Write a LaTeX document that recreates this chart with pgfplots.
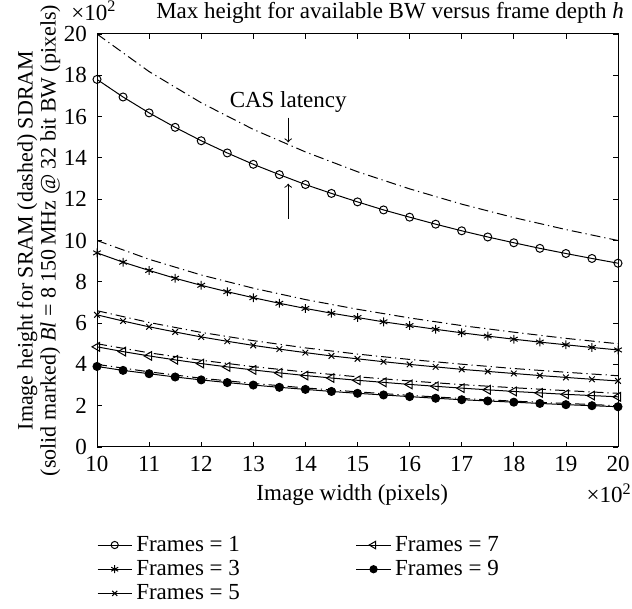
\documentclass[border=0pt]{standalone}
\usepackage{fontspec}
\setmainfont{Liberation Serif}
\usepackage{pgfplots}
\pgfplotsset{compat=1.18}
\newcommand{\figfont}{\fontsize{11.5}{13}\selectfont}
\begin{document}
\begin{tikzpicture}[font=\figfont]
\begin{axis}[
    name=ax,
    scale only axis,
    width=260.5pt,
    height=206.5pt,
    xmin=10, xmax=20,
    ymin=0, ymax=20,
    xtick={10,11,...,20},
    ytick={0,2,...,20},
    tick align=inside,
    major tick length=2.5pt,
    tick style={black, line width=0.4pt},
    axis line style={line width=0.5pt},
    /pgf/number format/assume math mode=true,
    tick label style={font=\figfont},
    yticklabel style={xshift=-1.5pt},
    xticklabel style={yshift=-1pt},
    label style={font=\figfont},
    xlabel={Image width (pixels)},
    xlabel style={at={(0.49,0)}, anchor=center, yshift=-24pt},
    ylabel={Image height for SRAM (dashed) SDRAM\\(solid marked) \textit{Bl} = 8 150\,MHz @ 32 bit BW (pixels)},
    ylabel style={align=center, yshift=-5pt, font=\fontsize{11}{11.5}\selectfont},
    title={Max height for available BW versus frame depth \textit{h}},
    title style={at={(0.5624,1)}, anchor=base, yshift=1.5pt, font=\fontsize{11.5}{13}\selectfont},
    legend columns=2,
    legend cell align=left,
    legend style={at={(-0.012,-0.195)}, anchor=north west, draw=none, fill=none,
        row sep=-1pt,
        /tikz/column 2/.style={column sep=56pt},
        font=\figfont},
    every axis plot/.append style={line width=0.5pt, black},
]
% legend images in the reference's order (column-wise)
\addlegendimage{black, line width=0.5pt, mark=o, mark size=1.8pt}
\addlegendentry{Frames = 1}
\addlegendimage{black, line width=0.5pt, mark=triangle, mark size=2.2pt, mark options={rotate=90}}
\addlegendentry{Frames = 7}
\addlegendimage{black, line width=0.5pt, mark=asterisk, mark size=2pt}
\addlegendentry{Frames = 3}
\addlegendimage{black, line width=0.5pt, mark=*, mark size=1.8pt}
\addlegendentry{Frames = 9}
\addlegendimage{black, line width=0.5pt, mark=x, mark size=1.8pt}
\addlegendentry{Frames = 5}

% SRAM (dashed)
\addplot[forget plot, dash pattern=on 5pt off 2pt on 0.6pt off 2pt] coordinates {
    (10,20.00) (11,18.18) (12,16.67) (13,15.38) (14,14.29) (15,13.33)
    (16,12.50) (17,11.76) (18,11.11) (19,10.53) (20,10.00)
};
\addplot[forget plot, dash pattern=on 5pt off 2pt on 0.6pt off 2pt] coordinates {
    (10,10.00) (11,9.09) (12,8.33) (13,7.69) (14,7.14) (15,6.67)
    (16,6.25) (17,5.88) (18,5.56) (19,5.26) (20,5.00)
};
\addplot[forget plot, dash pattern=on 5pt off 2pt on 0.6pt off 2pt] coordinates {
    (10,6.60) (11,6.03) (12,5.55) (13,5.15) (14,4.80) (15,4.50)
    (16,4.24) (17,4.01) (18,3.80) (19,3.62) (20,3.45)
};
\addplot[forget plot, dash pattern=on 5pt off 2pt on 0.6pt off 2pt] coordinates {
    (10,5.00) (11,4.56) (12,4.20) (13,3.89) (14,3.63) (15,3.40)
    (16,3.20) (17,3.02) (18,2.87) (19,2.73) (20,2.60)
};
\addplot[forget plot, dash pattern=on 5pt off 2pt on 0.6pt off 2pt] coordinates {
    (10,4.00) (11,3.64) (12,3.33) (13,3.08) (14,2.86) (15,2.67)
    (16,2.50) (17,2.35) (18,2.22) (19,2.11) (20,2.00)
};

% SDRAM (solid, marked)
\addplot[forget plot, mark=o, mark size=2pt] coordinates {
    (10,17.80) (10.5,16.95) (11,16.18) (11.5,15.48) (12,14.83) (12.5,14.24)
    (13,13.69) (13.5,13.19) (14,12.71) (14.5,12.28) (15,11.87) (15.5,11.48)
    (16,11.13) (16.5,10.79) (17,10.47) (17.5,10.17) (18,9.89) (18.5,9.62)
    (19,9.37) (19.5,9.13) (20,8.90)
};
\addplot[forget plot, mark=asterisk, mark size=2.2pt] coordinates {
    (10,9.40) (10.5,8.95) (11,8.55) (11.5,8.17) (12,7.83) (12.5,7.52)
    (13,7.23) (13.5,6.96) (14,6.71) (14.5,6.48) (15,6.27) (15.5,6.06)
    (16,5.88) (16.5,5.70) (17,5.53) (17.5,5.37) (18,5.22) (18.5,5.08)
    (19,4.95) (19.5,4.82) (20,4.70)
};
\addplot[forget plot, mark=x, mark size=2pt] coordinates {
    (10,6.40) (10.5,6.10) (11,5.82) (11.5,5.57) (12,5.33) (12.5,5.12)
    (13,4.92) (13.5,4.74) (14,4.57) (14.5,4.41) (15,4.27) (15.5,4.13)
    (16,4.00) (16.5,3.88) (17,3.76) (17.5,3.66) (18,3.56) (18.5,3.46)
    (19,3.37) (19.5,3.28) (20,3.20)
};
\addplot[forget plot, mark=triangle, mark size=2.5pt, mark options={rotate=90}] coordinates {
    (10,4.85) (10.5,4.62) (11,4.41) (11.5,4.22) (12,4.04) (12.5,3.88)
    (13,3.73) (13.5,3.59) (14,3.46) (14.5,3.34) (15,3.23) (15.5,3.13)
    (16,3.03) (16.5,2.94) (17,2.85) (17.5,2.77) (18,2.69) (18.5,2.62)
    (19,2.55) (19.5,2.49) (20,2.43)
};
\addplot[forget plot, mark=*, mark size=2pt] coordinates {
    (10,3.90) (10.5,3.71) (11,3.55) (11.5,3.39) (12,3.25) (12.5,3.12)
    (13,3.00) (13.5,2.89) (14,2.79) (14.5,2.69) (15,2.60) (15.5,2.52)
    (16,2.44) (16.5,2.36) (17,2.29) (17.5,2.23) (18,2.17) (18.5,2.11)
    (19,2.05) (19.5,2.00) (20,1.95)
};

% CAS latency annotation
\node[anchor=south, inner sep=1pt] at (axis cs:13.67,16.1) {CAS latency};
\draw[->, line width=0.5pt] (axis cs:13.67,15.95) -- (axis cs:13.67,14.75);
\draw[->, line width=0.5pt] (axis cs:13.67,11.05) -- (axis cs:13.67,12.75);
\end{axis}
% scale factors
\node[anchor=base west, inner sep=0pt] at ([shift={(-13pt,6.8pt)}]ax.north west) {×10\textsuperscript{2}};
\node[anchor=base east, inner sep=0pt] at ([shift={(7pt,-28pt)}]ax.south east) {×10\textsuperscript{2}};
\pgfresetboundingbox
\path (ax.south west) ++(-48.5pt,-81pt) rectangle ++(316pt,304.5pt);
\end{tikzpicture}
\end{document}
